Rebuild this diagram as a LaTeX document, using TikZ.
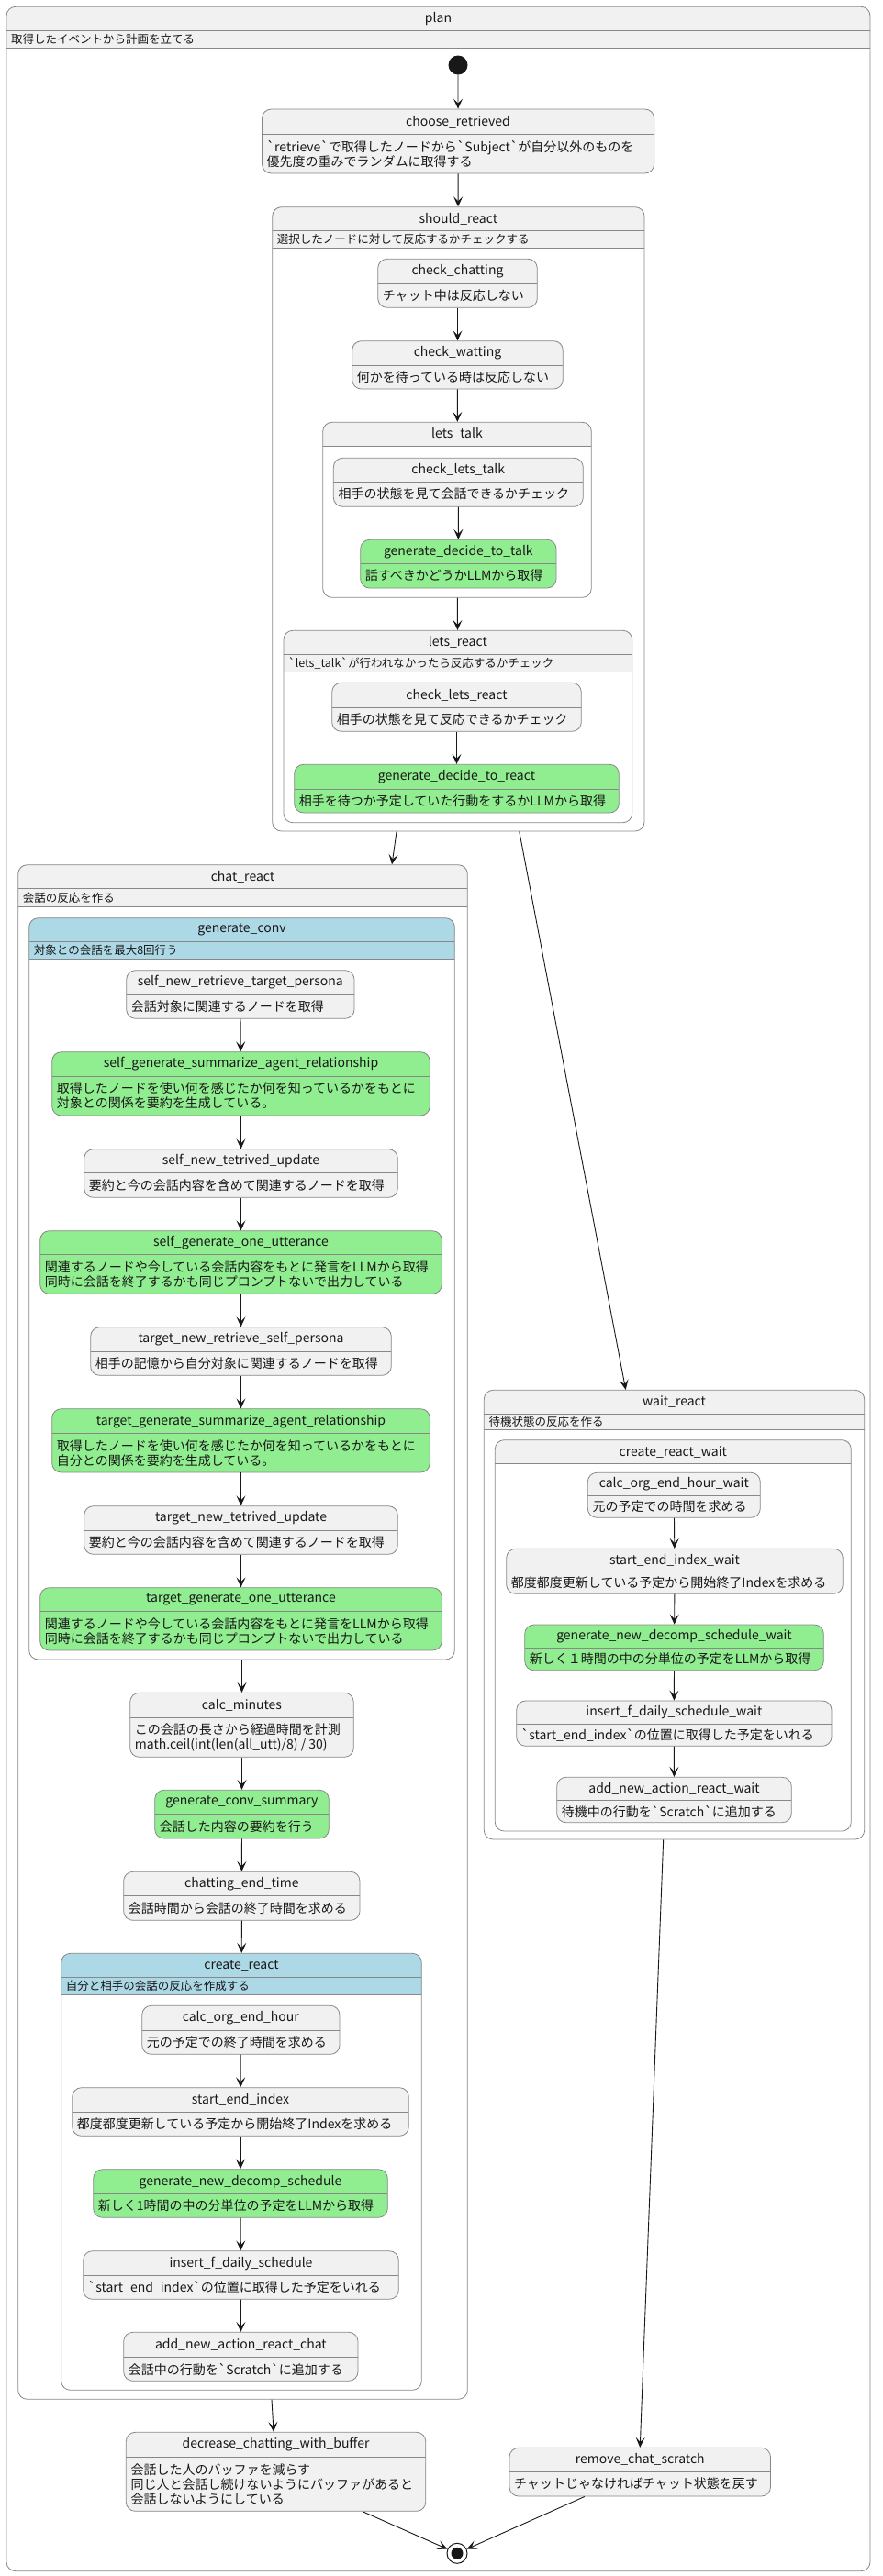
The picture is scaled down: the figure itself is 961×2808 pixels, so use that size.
\documentclass[tikz,border=0pt]{standalone}
\usepackage{fontspec}
\setmainfont{Noto Sans CJK JP}
\usepackage{tikz}
\usetikzlibrary{arrows.meta,calc}

\definecolor{boxbg}{HTML}{F1F1F1}
\definecolor{boxline}{HTML}{888888}
\definecolor{llmgreen}{HTML}{90EE90}
\definecolor{subblue}{HTML}{ADD8E6}
\definecolor{ink}{HTML}{181818}

\newcommand{\bq}{\textasciigrave}

% simple state: name, fill, x1, y1, x2, y2, title height, title, description
\newcommand{\sstate}[9]{%
  \node[stbox,fill=#2,minimum width={(#5-#3)*1pt},minimum height={(#6-#4)*1pt}] (#1) at ({(#3+#5)/2},{(#4+#6)/2}) {};
  \draw[sepline] (#3,#4+#7) -- (#5,#4+#7);
  \node[sttitle] (#1-t) at ({(#3+#5)/2},{#4+#7/2}) {#8};
  \node[stdesc] (#1-d) at (#3+5,{(#4+#7+#6)/2}) {#9};
}

% composite state: name, header fill, x1, y1, x2, y2, header bottom, title, description
\newcommand{\cstate}[9]{%
  \begin{scope}
    \clip (#3,#4) rectangle (#5,#7);
    \fill[#2,rounded corners=10pt] (#3,#4) rectangle (#5,#6);
  \end{scope}
  \node[stbox,minimum width={(#5-#3)*1pt},minimum height={(#6-#4)*1pt}] (#1) at ({(#3+#5)/2},{(#4+#6)/2}) {};
  \draw[sepline] (#3,#4+26) -- (#5,#4+26);
  \draw[sepline] (#3,#7) -- (#5,#7);
  \node[sttitle] (#1-t) at ({(#3+#5)/2},#4+13) {#8};
  \node[cdesc] (#1-d) at (#3+5,{(#4+26+#7)/2}) {#9};
}

\begin{document}
\begin{tikzpicture}[x=1pt,y=-1pt,
    stbox/.style={draw=boxline,line width=0.8pt,rounded corners=10pt,inner sep=0pt},
    sepline/.style={draw=boxline,line width=0.8pt},
    sttitle/.style={font=\fontsize{14}{16}\selectfont,text=ink,inner sep=0pt},
    stdesc/.style={anchor=west,align=left,font=\fontsize{14}{16}\selectfont,text=ink,inner sep=0pt},
    cdesc/.style={anchor=west,font=\fontsize{12.5}{14}\selectfont,text=ink,inner sep=0pt},
    startdot/.style={circle,fill=ink,minimum size=21pt,inner sep=0pt},
    enddot/.style={circle,draw=ink,line width=1pt,fill=white,minimum size=22pt,inner sep=0pt},
    enddotin/.style={circle,fill=ink,minimum size=13pt,inner sep=0pt},
    arr/.style={-{Stealth[length=11pt,width=10pt,inset=5pt]},draw=ink,line width=0.9pt}]
  \useasboundingbox (0,0) rectangle (961,2808);

  \cstate{plan}{boxbg}{7}{7.3}{948}{2802.7}{52.3}{plan}{取得したイベントから計画を立てる}
  \node[startdot] (init) at (499,71) {};
  \sstate{chooseret}{boxbg}{285.5}{119}{712.6}{189}{27}{choose\_retrieved}{\bq retrieve\bq で取得したノードから\bq Subject\bq が自分以外のものを\\優先度の重みでランダムに取得する}

  % should_react
  \cstate{shr}{boxbg}{296.7}{225.7}{702}{906}{270.7}{should\_react}{選択したノードに対して反応するかチェックする}
  \sstate{chkchat}{boxbg}{411.7}{282.3}{585.3}{335.3}{27}{check\_chatting}{チャット中は反応しない}
  \sstate{chkwait}{boxbg}{383.7}{371.7}{613.3}{424}{26.6}{check\_watting}{何かを待っている時は反応しない}
  \cstate{letstalk}{boxbg}{351.7}{460.3}{644.3}{651.3}{486.3}{lets\_talk}{}
  \sstate{chktalk}{boxbg}{363.3}{499.3}{635.3}{552.3}{25.7}{check\_lets\_talk}{相手の状態を見て会話できるかチェック}
  \sstate{gentalk}{llmgreen}{392.7}{588.3}{606}{641}{26}{generate\_decide\_to\_talk}{話すべきかどうかLLMから取得}
  \cstate{letsreact}{boxbg}{309}{687.3}{688.7}{896.7}{732.3}{lets\_react}{\bq lets\_talk\bq が行われなかったら反応するかチェック}
  \sstate{chkreact}{boxbg}{361.7}{744.3}{633.3}{797.3}{27.4}{check\_lets\_react}{相手の状態を見て反応できるかチェック}
  \sstate{genreact}{llmgreen}{320.7}{833.3}{674.3}{886}{27.4}{generate\_decide\_to\_react}{相手を待つか予定していた行動をするかLLMから取得}

  % chat_react
  \cstate{chat}{boxbg}{19.7}{942.7}{509.3}{2615.3}{988.3}{chat\_react}{会話の反応を作る}
  \cstate{genconv}{subblue}{31.7}{1000.7}{495.3}{1809}{1045.7}{generate\_conv}{対象との会話を最大8回行う}
  \sstate{selfret}{boxbg}{137.7}{1057.7}{386}{1110.3}{26.6}{self\_new\_retrieve\_target\_persona}{会話対象に関連するノードを取得}
  \sstate{selfsum}{llmgreen}{56.7}{1146.7}{468.3}{1216}{26.6}{self\_generate\_summarize\_agent\_relationship}{取得したノードを使い何を感じたか何を知っているかをもとに\\対象との関係を要約を生成している。}
  \sstate{selfupd}{boxbg}{91.7}{1252.7}{433.3}{1305.3}{26}{self\_new\_tetrived\_update}{要約と今の会話内容を含めて関連するノードを取得}
  \sstate{selfutt}{llmgreen}{43.7}{1341.7}{481.3}{1410.3}{25.6}{self\_generate\_one\_utterance}{関連するノードや今している会話内容をもとに発言をLLMから取得\\同時に会話を終了するかも同じプロンプトないで出力している}
  \sstate{tgtret}{boxbg}{98.7}{1446.7}{426.3}{1499.3}{26.6}{target\_new\_retrieve\_self\_persona}{相手の記憶から自分対象に関連するノードを取得}
  \sstate{tgtsum}{llmgreen}{56.7}{1535.7}{468.3}{1605}{27}{target\_generate\_summarize\_agent\_relationship}{取得したノードを使い何を感じたか何を知っているかをもとに\\自分との関係を要約を生成している。}
  \sstate{tgtupd}{boxbg}{91.7}{1641.7}{433.3}{1694.3}{26.6}{target\_new\_tetrived\_update}{要約と今の会話内容を含めて関連するノードを取得}
  \sstate{tgtutt}{llmgreen}{43.7}{1730.7}{481.3}{1799}{26}{target\_generate\_one\_utterance}{関連するノードや今している会話内容をもとに発言をLLMから取得\\同時に会話を終了するかも同じプロンプトないで出力している}
  \sstate{calcmin}{boxbg}{141.7}{1845.3}{385.3}{1915.3}{27}{calc\_minutes}{この会話の長さから経過時間を計測\\math.ceil(int(len(all\_utt)/8) / 30)}
  \sstate{convsum}{llmgreen}{168.7}{1951.3}{358.3}{2004}{26.4}{generate\_conv\_summary}{会話した内容の要約を行う}
  \sstate{chatend}{boxbg}{134.7}{2040.3}{392}{2093.3}{26.4}{chatting\_end\_time}{会話時間から会話の終了時間を求める}
  \cstate{createreact}{subblue}{66.7}{2129.3}{459.3}{2605.3}{2174}{create\_react}{自分と相手の会話の反応を作成する}
  \sstate{orghour}{boxbg}{154.7}{2186.3}{370}{2239.3}{27}{calc\_org\_end\_hour}{元の予定での終了時間を求める}
  \sstate{seidx}{boxbg}{78.7}{2275.7}{445.3}{2328.3}{26.3}{start\_end\_index}{都度都度更新している予定から開始終了Indexを求める}
  \sstate{decomp}{llmgreen}{101.7}{2364.7}{422.3}{2417.3}{27}{generate\_new\_decomp\_schedule}{新しく1時間の中の分単位の予定をLLMから取得}
  \sstate{insdaily}{boxbg}{90.7}{2453.7}{434.3}{2506.3}{26.6}{insert\_f\_daily\_schedule}{\bq start\_end\_index\bq の位置に取得した予定をいれる}
  \sstate{addchat}{boxbg}{134.7}{2542.3}{390}{2595.3}{27.4}{add\_new\_action\_react\_chat}{会話中の行動を\bq Scratch\bq に追加する}

  % wait_react
  \cstate{waitreact}{boxbg}{527.3}{1515.3}{941.7}{2005}{1558.3}{wait\_react}{待機状態の反応を作る}
  \cstate{createwait}{boxbg}{539.3}{1569.7}{927.3}{1996}{1595.7}{create\_react\_wait}{}
  \sstate{orghourw}{boxbg}{640.3}{1605.3}{828.3}{1654.3}{24.7}{calc\_org\_end\_hour\_wait}{元の予定での時間を求める}
  \sstate{seidxw}{boxbg}{551.7}{1688.3}{918.3}{1737.3}{24.4}{start\_end\_index\_wait}{都度都度更新している予定から開始終了Indexを求める}
  \sstate{decompw}{llmgreen}{571.7}{1771}{897.3}{1820.7}{25}{generate\_new\_decomp\_schedule\_wait}{新しく１時間の中の分単位の予定をLLMから取得}
  \sstate{insdailyw}{boxbg}{562.7}{1854}{906}{1903.3}{25.3}{insert\_f\_daily\_schedule\_wait}{\bq start\_end\_index\bq の位置に取得した予定をいれる}
  \sstate{addwait}{boxbg}{606.7}{1937.3}{862.3}{1986.7}{25}{add\_new\_action\_react\_wait}{待機中の行動を\bq Scratch\bq に追加する}

  % after reactions
  \sstate{decbuf}{boxbg}{137.3}{2651.3}{463.8}{2737.3}{27}{decrease\_chatting\_with\_buffer}{会話した人のバッファを減らす\\同じ人と会話し続けないようにバッファがあると\\会話しないようにしている}
  \sstate{rmscratch}{boxbg}{555}{2668.3}{839.5}{2721}{26}{remove\_chat\_scratch}{チャットじゃなければチャット状態を戻す}
  \node[enddot] (final) at (498,2783.3) {};
  \node[enddotin] (finalin) at (final) {};

  % transitions
  \foreach \a/\b in {init/chooseret, chooseret/shr, chkchat/chkwait, chkwait/letstalk,
      chktalk/gentalk, letstalk/letsreact, chkreact/genreact,
      selfret/selfsum, selfsum/selfupd, selfupd/selfutt, selfutt/tgtret,
      tgtret/tgtsum, tgtsum/tgtupd, tgtupd/tgtutt, genconv/calcmin,
      calcmin/convsum, convsum/chatend, chatend/createreact,
      orghour/seidx, seidx/decomp, decomp/insdaily, insdaily/addchat,
      orghourw/seidxw, seidxw/decompw, decompw/insdailyw, insdailyw/addwait}
    \draw[arr] (\a) -- (\b);
  \draw[arr] ($(shr.south)+(-67.3,0)$) -- ($(chat.north)+(162.5,0)$);
  \draw[arr] ($(shr.south)+(66.4,0)$) -- ($(waitreact.north)+(-52.8,0)$);
  \draw[arr] ($(chat.south)+(31.5,0)$) -- ($(decbuf.north)+(-2.5,0)$);
  \draw[arr] ($(waitreact.south)+(-11.8,0)$) -- (rmscratch.north);
  \draw[arr] ($(decbuf.south)+(94.5,0)$) -- (final);
  \draw[arr] ($(rmscratch.south)+(-60.3,0)$) -- (final);
\end{tikzpicture}
\end{document}
